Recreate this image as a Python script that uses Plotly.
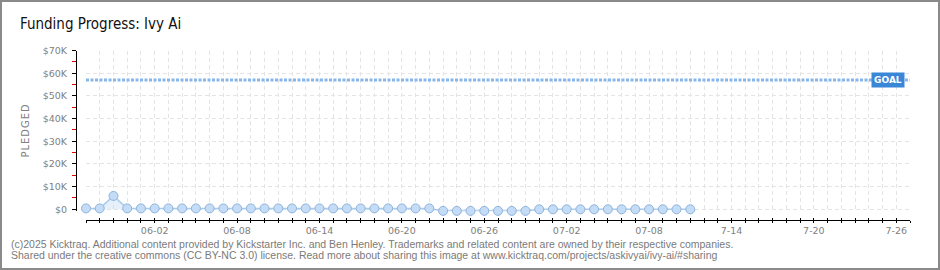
import pandas as pd
import plotly.graph_objects as go

# ---- data ----
DATES = pd.date_range("2025-05-28", "2025-07-11", freq="D")
PLEDGED = ([400, 400, 5900] + [400] * 23 + [-700] * 7 + [0] * 12)
GOAL = 57000
X_RANGE = ["2025-05-28", "2025-07-27"]
Y_RANGE = [-900, 70000]
Y_TICK_VALS = [0, 10000, 20000, 30000, 40000, 50000, 60000, 70000]
Y_TICK_TEXT = ["$0", "$10K", "$20K", "$30K", "$40K", "$50K", "$60K", "$70K"]
X_TICK_DATES = pd.date_range(X_RANGE[0], X_RANGE[1], freq="D")
X_LABELS = {"2025-06-02": "06-02", "2025-06-08": "06-08", "2025-06-14": "06-14",
            "2025-06-20": "06-20", "2025-06-26": "06-26", "2025-07-02": "07-02",
            "2025-07-08": "07-08", "2025-07-14": "7-14", "2025-07-20": "7-20",
            "2025-07-26": "7-26"}
TITLE = "Funding Progress: Ivy Ai"
FOOTER1 = ("(c)2025 Kicktraq. Additional content provided by Kickstarter Inc. and Ben Henley. "
           "Trademarks and related content are owned by their respective companies.")
FOOTER2 = ("Shared under the creative commons (CC BY-NC 3.0) license. Read more about sharing "
           "this image at www.kicktraq.com/projects/askivyai/ivy-ai/#sharing")

# ---- layout geometry ----
W, H = 940, 270
L, R, T, B = 60, 30, 50, 35
PW, PH = W - L - R, H - T - B


def px_x(px):
    return (px - L) / PW


def px_y(py):
    return (H - B - py) / PH


# pixel positions: $70K at y=50.5, $0 at y=209.3
PX_PER_UNIT = (209.3 - 50.5) / 70000
Y_BOTTOM_PX = 209.3 - Y_RANGE[0] * PX_PER_UNIT

x_tickvals = list(X_TICK_DATES)
x_ticktext = [X_LABELS.get(d.strftime("%Y-%m-%d"), "") for d in X_TICK_DATES]

TICK_FONT = dict(family="DejaVu Sans", size=9.5, color="#808080")
GRID = "#e4e4e4"

fig = go.Figure()
fig.add_trace(go.Scatter(
    x=DATES, y=PLEDGED, mode="lines+markers",
    fill="tozeroy", fillcolor="rgba(200,222,246,0.45)",
    line=dict(color="#a9cbee", width=1.5),
    marker=dict(size=9, color="#c4dcf6", line=dict(color="#8fb3dd", width=1)),
    cliponaxis=False, showlegend=False, hoverinfo="skip",
))
fig.add_trace(go.Scatter(x=[X_RANGE[0]], y=[None], xaxis="x2", showlegend=False,
                         hoverinfo="skip"))

# goal line
fig.add_shape(type="line", xref="x domain", yref="y", x0=0, x1=1, y0=GOAL, y1=GOAL,
              line=dict(color="#86b6ea", width=3, dash="3px,1.5px"), layer="above")
fig.add_annotation(xref="x domain", yref="y", x=(888 - 86) / 824, y=GOAL,
                   text="<b>GOAL</b>", showarrow=False, xanchor="center", yanchor="middle",
                   bgcolor="#3a87d7", font=dict(family="DejaVu Sans", size=9, color="white"),
                   borderpad=2, width=28)

# border
fig.add_shape(type="rect", xref="paper", yref="paper",
              x0=px_x(1), x1=px_x(939), y0=px_y(269), y1=px_y(1),
              line=dict(color="#8a8a8a", width=2), layer="above")

# footer
FOOT_FONT = dict(family="Liberation Sans, Arial", size=10.5, color="#7a7a7a")
fig.add_annotation(xref="paper", yref="paper", x=px_x(9), y=px_y(243.5), text=FOOTER1,
                   showarrow=False, xanchor="left", yanchor="middle", font=FOOT_FONT)
fig.add_annotation(xref="paper", yref="paper", x=px_x(9), y=px_y(255), text=FOOTER2,
                   showarrow=False, xanchor="left", yanchor="middle", font=FOOT_FONT)

fig.update_layout(
    width=W, height=H,
    margin=dict(l=L, r=R, t=T, b=B),
    paper_bgcolor="white", plot_bgcolor="white",
    title=dict(text=TITLE, xref="container", yref="container", x=20 / W, y=1 - 24 / H,
               xanchor="left", yanchor="middle",
               font=dict(family="Liberation Sans Narrow, DejaVu Sans Condensed, Roboto",
                         size=15, color="#111111")),
    xaxis=dict(type="date", range=X_RANGE, domain=[px_x(86), 1], anchor="free",
               position=px_y(219.5),
               tickmode="array", tickvals=x_tickvals, ticktext=x_ticktext,
               ticks="outside", ticklen=2, tickwidth=1, tickcolor="black",
               showline=True, linecolor="black", linewidth=1.2,
               showgrid=True, gridcolor=GRID, griddash="4px,3px", gridwidth=1,
               tickfont=TICK_FONT, zeroline=False),
    xaxis2=dict(type="date", range=X_RANGE, matches="x", overlaying="x", anchor="free",
                position=px_y(219.5), domain=[px_x(86), 1],
                tickmode="array", tickvals=x_tickvals, ticks="inside", ticklen=2,
                tickwidth=1, tickcolor="black", showticklabels=False, showgrid=False,
                showline=False, zeroline=False),
    yaxis=dict(range=Y_RANGE, domain=[px_y(Y_BOTTOM_PX), px_y(50.5)], anchor="free",
               position=px_x(76),
               tickmode="array", tickvals=Y_TICK_VALS, ticktext=Y_TICK_TEXT,
               ticks="outside", ticklen=4, tickwidth=1, tickcolor="black",
               showline=True, linecolor="black", linewidth=1.2,
               showgrid=True, gridcolor=GRID, griddash="4px,3px", gridwidth=1,
               zeroline=False, tickfont=TICK_FONT, ticklabelstandoff=3,
               minor=dict(dtick=5000, tick0=0, ticks="outside", ticklen=4,
                          tickcolor="#e00000", tickwidth=1, showgrid=False),
               title=dict(text="P\u200aL\u200aE\u200aD\u200aG\u200aE\u200aD", standoff=10,
                          font=dict(family="DejaVu Sans", size=10, color="#808080"))),
)

fig.write_html("out.html")
